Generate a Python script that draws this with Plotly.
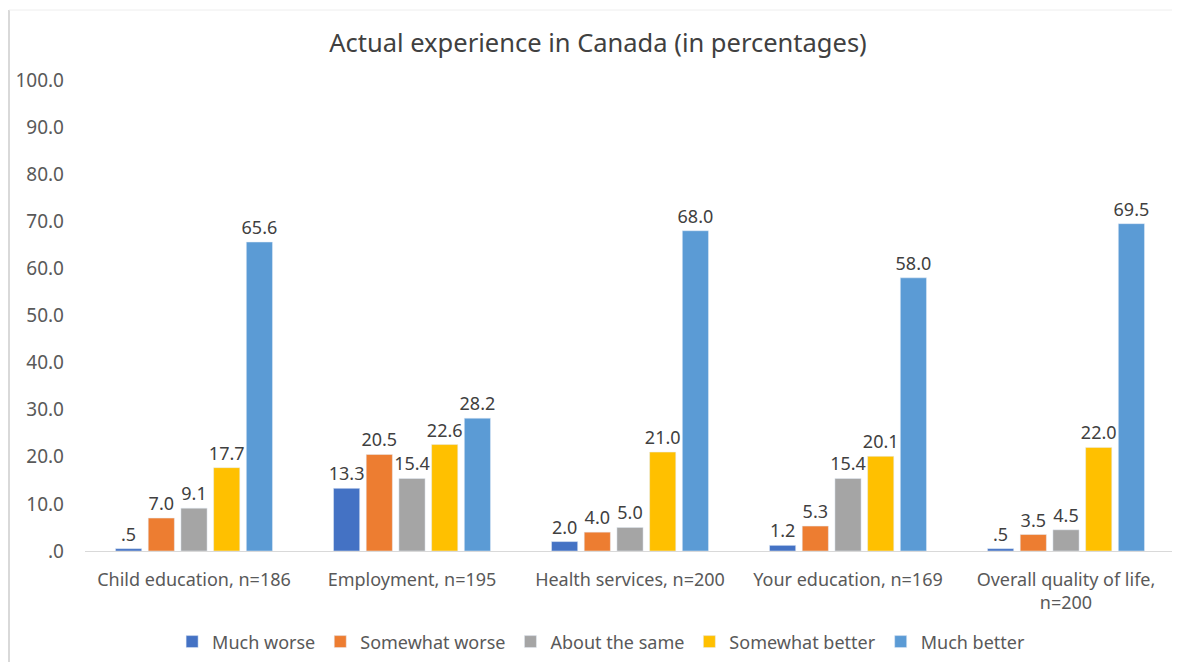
import plotly.graph_objects as go

categories = ["Child education, n=186", "Employment, n=195", "Health services, n=200",
              "Your education, n=169", "Overall quality of life,<br>n=200"]
series_names = ["Much worse", "Somewhat worse", "About the same", "Somewhat better", "Much better"]
much_worse = [0.5, 13.3, 2.0, 1.2, 0.5]
somewhat_worse = [7.0, 20.5, 4.0, 5.3, 3.5]
about_same = [9.1, 15.4, 5.0, 15.4, 4.5]
somewhat_better = [17.7, 22.6, 21.0, 20.1, 22.0]
much_better = [65.6, 28.2, 68.0, 58.0, 69.5]
y_ticks = [0, 10, 20, 30, 40, 50, 60, 70, 80, 90, 100]

colors = ["#4472C4", "#ED7D31", "#A5A5A5", "#FFC000", "#5B9BD5"]
font = "Noto Sans"


def fmt(v):
    # Excel-style ".5" instead of "0.5"
    s = f"{v:.1f}"
    return s[1:] if s.startswith("0") else s


fig = go.Figure()
for name, vals, col in zip(series_names,
                           [much_worse, somewhat_worse, about_same, somewhat_better, much_better],
                           colors):
    fig.add_trace(go.Bar(
        x=categories, y=vals, name=name, marker_color=col,
        text=[fmt(v) for v in vals], textposition="outside", constraintext="none",
        textfont=dict(size=18, color="#404040", family=font),
        cliponaxis=False,
    ))

fig.update_layout(
    width=1180, height=662,
    barmode="group", bargap=0.25, bargroupgap=0.2,
    paper_bgcolor="white", plot_bgcolor="white",
    margin=dict(l=77, r=13, t=72, b=119, autoexpand=False),
    title=dict(text="Actual experience in Canada (in percentages)", x=0.5, xanchor="center",
               y=0.947, yanchor="middle", font=dict(size=25.5, color="#404040", family=font)),
    font=dict(family=font, color="#595959"),
    legend=dict(orientation="h", x=0.4735, xanchor="center", y=-0.193, yanchor="middle",
                font=dict(size=18, color="#595959", family=font), traceorder="normal"),
    showlegend=True,
)
fig.update_yaxes(range=[0, 100], tickvals=y_ticks, ticktext=[fmt(v) for v in y_ticks],
                 showgrid=False, zeroline=False, showline=False, automargin=False,
                 tickfont=dict(size=19, color="#595959"), ticklabelstandoff=20)
fig.update_xaxes(showgrid=False, showline=True, linecolor="#D9D9D9", linewidth=1,
                 automargin=False, ticklabelstandoff=12,
                 tickfont=dict(size=18, color="#595959"))

# chart frame: left and top edges only are visible in the reference
fig.add_shape(type="line", xref="paper", yref="paper",
              x0=-76 / 1090, x1=-76 / 1090, y0=-0.3, y1=541 / 471,
              line=dict(color="#D9D9D9", width=2))
fig.add_shape(type="line", xref="paper", yref="paper",
              x0=-76 / 1090, x1=1.1, y0=541 / 471, y1=541 / 471,
              line=dict(color="#EEEEEE", width=1))

fig.write_html("out.html")
